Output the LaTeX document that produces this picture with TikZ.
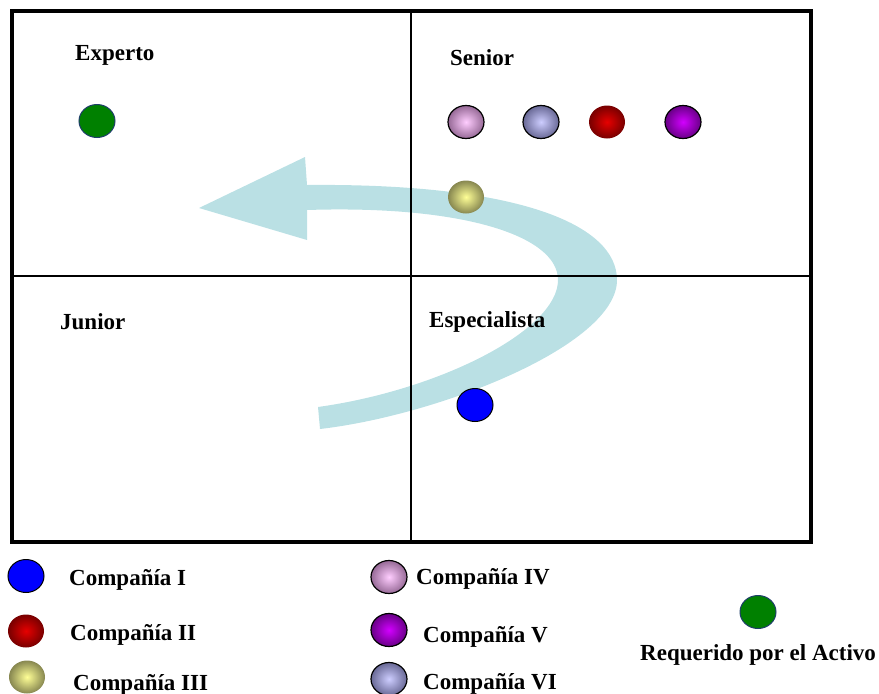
\documentclass[tikz,border=0pt]{standalone}
\usepackage{fontspec}
\setmainfont{Liberation Serif}
\usetikzlibrary{shapes.geometric}

\definecolor{arrowteal}{HTML}{BAE0E4}
\definecolor{reqgreen}{HTML}{008000}
\definecolor{reqedge}{HTML}{1F3F6A}

\tikzset{
  lbl/.style={anchor=base west, inner sep=0pt, font=\fontsize{23}{28}\selectfont\bfseries},
  dot/.style={ellipse, minimum width=36pt, minimum height=33pt, inner sep=0pt},
  reqdot/.style={dot, fill=reqgreen, draw=reqedge, line width=1pt},
  dotI/.style={dot, fill=blue, draw=black, line width=1pt},
  dotII/.style={dot, inner color={rgb,255:red,230;green,0;blue,0}, outer color={rgb,255:red,120;green,0;blue,0}},
  dotIII/.style={dot, inner color={rgb,255:red,255;green,255;blue,150}, outer color={rgb,255:red,135;green,135;blue,80}},
  dotIV/.style={dot, inner color={rgb,255:red,255;green,205;blue,255}, outer color={rgb,255:red,150;green,105;blue,150}, draw=black, line width=1.2pt},
  dotV/.style={dot, inner color={rgb,255:red,210;green,0;blue,255}, outer color={rgb,255:red,105;green,0;blue,135}, draw=black, line width=1.2pt},
  dotVI/.style={dot, inner color={rgb,255:red,205;green,205;blue,255}, outer color={rgb,255:red,105;green,105;blue,150}, draw=black, line width=1.2pt},
}

\begin{document}
\begin{tikzpicture}[x=1pt, y=-1pt]
\useasboundingbox (0,0) rectangle (879,694);

% curved progression arrow (drawn under the grid)
\fill[arrowteal]
  (320,429) .. controls (440,415) and (617,345) .. (617,280)
  .. controls (617,225) and (520,183) .. (307,185)
  -- (305,157) -- (199,208) -- (307,240) -- (307,210)
  .. controls (460,205) and (558,235) .. (558,280)
  .. controls (558,330) and (440,390) .. (318,407) -- cycle;

% quadrant grid
\draw[line width=1.6pt] (411,11) -- (411,542);
\draw[line width=1.6pt] (12,276) -- (810,276);
\draw[line width=4pt] (12,11) rectangle (810.5,542);

% quadrant titles
\node[lbl] (experto) at (75,60) {Experto};
\node[lbl] (senior) at (450,65) {Senior};
\node[lbl] (junior) at (60,329) {Junior};
\node[lbl] (especialista) at (429,327) {Especialista};

% positions of the companies
\node[reqdot] (pExp) at (97,121) {};
\node[dotIV] (pIV) at (466,122) {};
\node[dotVI] (pVI) at (541,122) {};
\node[dotII] (pII) at (607,122) {};
\node[dotV] (pV) at (683,122) {};
\node[dotIII] (pIII) at (466,197) {};
\node[dotI] (pI) at (475,405) {};

% legend
\node[dotI] (kI) at (26,576) {};
\node[lbl] (tI) at (69,585) {Compañía I};
\node[dotII] (kII) at (26,631) {};
\node[lbl] (tII) at (70,640) {Compañía II};
\node[dotIII] (kIII) at (27,677) {};
\node[lbl] (tIII) at (73,690) {Compañía III};

\node[dotIV] (kIV) at (389,577) {};
\node[lbl] (tIV) at (416,584) {Compañía IV};
\node[dotV] (kV) at (389,630) {};
\node[lbl] (tV) at (423,642) {Compañía V};
\node[dotVI] (kVI) at (389,679) {};
\node[lbl] (tVI) at (423,689) {Compañía VI};

\node[reqdot] (kReq) at (758,612) {};
\node[lbl] (tReq) at (640,660) {Requerido por el Activo};
\end{tikzpicture}
\end{document}
